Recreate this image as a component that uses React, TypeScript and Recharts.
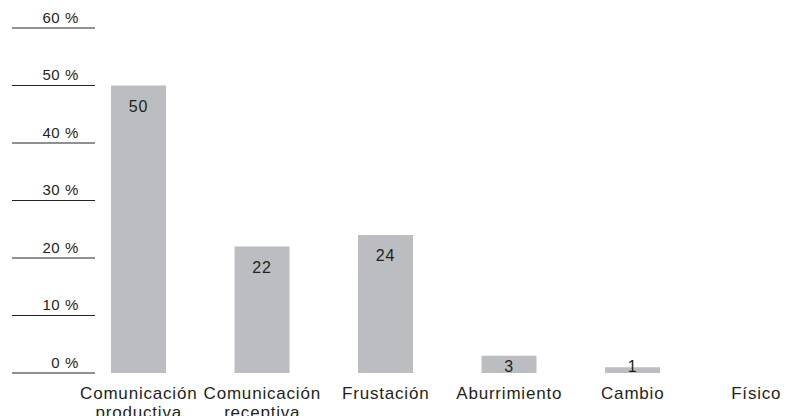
import React from 'react';
import { BarChart, Bar, XAxis, YAxis, LabelList } from 'recharts';

const categories = ['Comunicación productiva', 'Comunicación receptiva', 'Frustación', 'Aburrimiento', 'Cambio', 'Físico'];
const values = [50, 22, 24, 3, 1, 0];
const yTicks = [0, 10, 20, 30, 40, 50, 60];

const data = categories.map((name, i) => ({ name, value: values[i] }));

const FONT = '"Liberation Sans", Arial, Helvetica, sans-serif';
const INK = '#231f20';

const YTick = (props: any) => {
  const { y, payload } = props;
  return (
    <g>
      <text x={71} y={y - 5.5} textAnchor="end" fontSize={15} letterSpacing={0.6} fill={INK} fontFamily={FONT}>
        {`${payload.value} %`}
      </text>
      <line x1={4} x2={87} y1={y} y2={y} stroke="#222" strokeWidth={1} />
    </g>
  );
};

const XTick = (props: any) => {
  const { x, y, payload } = props;
  const words = String(payload.value).split(' ');
  return (
    <text x={x} y={y} textAnchor="middle" fontSize={17} letterSpacing={0.8} fill={INK} fontFamily={FONT}>
      {words.map((w, i) => (
        <tspan key={i} x={x} dy={i === 0 ? 18 : 19}>{w}</tspan>
      ))}
    </text>
  );
};

const ValueLabel = (props: any) => {
  const { x, y, width, height, value } = props;
  if (!value) return null;
  const base = Math.min(y + 26, y + height - 1);
  return (
    <text x={x + width / 2} y={base} textAnchor="middle" fontSize={16} letterSpacing={0.8} fill={INK} fontFamily={FONT}>
      {value}
    </text>
  );
};

export default function App() {
  return (
    <div style={{ width: 775, height: 408, overflow: 'hidden' }}>
      <BarChart width={810} height={408} data={data} margin={{ top: 20, right: 0, bottom: 0, left: 0 }}>
        <XAxis
          dataKey="name"
          axisLine={false}
          tickLine={false}
          height={43}
          interval={0}
          tick={<XTick />}
        />
        <YAxis
          domain={[0, 60]}
          ticks={yTicks}
          width={69}
          axisLine={false}
          tickLine={false}
          tick={<YTick />}
        />
        <Bar dataKey="value" fill="#bcbdc0" barSize={55} isAnimationActive={false}>
          <LabelList dataKey="value" content={<ValueLabel />} />
        </Bar>
      </BarChart>
    </div>
  );
}
